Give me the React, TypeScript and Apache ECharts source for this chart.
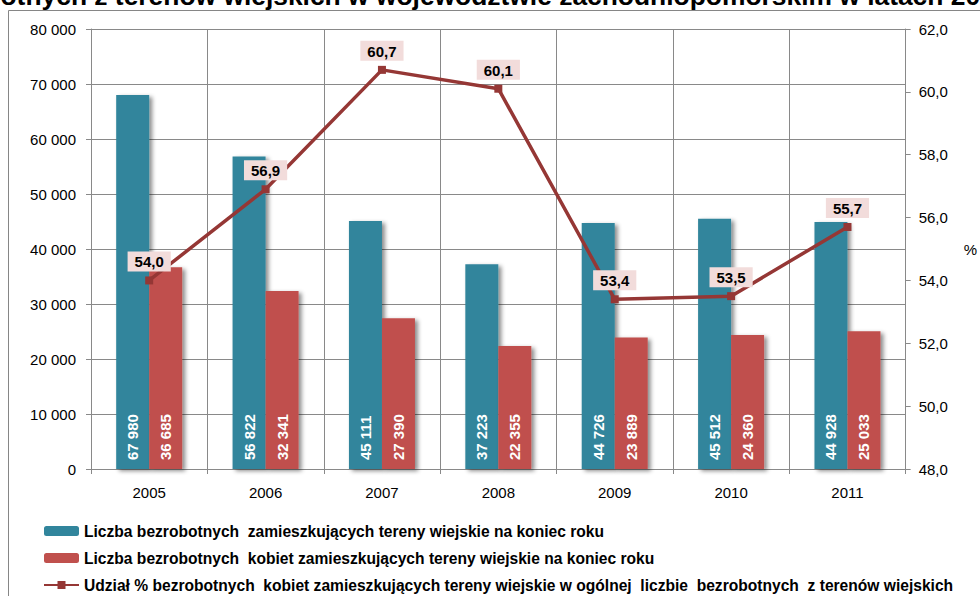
import React, { useEffect, useRef } from "react";
import * as echarts from "echarts";

const years = ["2005", "2006", "2007", "2008", "2009", "2010", "2011"];
const unemployedRural = [67980, 56822, 45111, 37223, 44726, 45512, 44928];
const unemployedWomenRural = [36685, 32341, 27390, 22355, 23889, 24360, 25033];
const womenSharePct = [54.0, 56.9, 60.7, 60.1, 53.4, 53.5, 55.7];

const seriesNames = [
  "Liczba bezrobotnych  zamieszkujących tereny wiejskie na koniec roku",
  "Liczba bezrobotnych  kobiet zamieszkujących tereny wiejskie na koniec roku",
  "Udział % bezrobotnych  kobiet zamieszkujących tereny wiejskie w ogólnej  liczbie  bezrobotnych  z terenów wiejskich",
];
const titleText =
  "bezrobotnych z terenów wiejskich w województwie zachodniopomorskim w latach 2005-2011";

const fmtThousands = (v: number) =>
  String(Math.round(v)).replace(/\B(?=(\d{3})+(?!\d))/g, " ");
const fmtPct = (v: number) => v.toFixed(1).replace(".", ",");

export default function App() {
  const ref = useRef<HTMLDivElement>(null);
  useEffect(() => {
    document.body.style.margin = "0";
    if (!ref.current) return;
    const chart = echarts.init(ref.current, null, { renderer: "svg" });
    const font = "Liberation Sans, Arial, sans-serif";
    const gridColor = "#898989";
    const barShadow = {
      shadowColor: "rgba(0,0,0,0.45)",
      shadowBlur: 4,
      shadowOffsetX: 3,
      shadowOffsetY: 2,
    };
    const barLabel = {
      show: true,
      position: "insideBottom",
      rotate: 90,
      align: "left",
      verticalAlign: "middle",
      distance: 9,
      color: "#fff",
      fontSize: 15,
      fontWeight: "bold",
      fontFamily: font,
      formatter: (p: any) => fmtThousands(p.value),
    };
    chart.setOption({
      animation: false,
      backgroundColor: "#fff",
      textStyle: { fontFamily: font },
      graphic: [
        {
          type: "polyline",
          shape: { points: [[8.5, 596], [8.5, 10.5], [980, 10.5]] },
          style: { stroke: "#868686", lineWidth: 1, fill: "none" },
          silent: true,
        },
        {
          type: "text",
          x: -86,
          y: 9,
          style: {
            text: titleText,
            font: `bold 26.4px ${font}`,
            fill: "#000",
            verticalAlign: "bottom",
            align: "left",
          },
          silent: true,
        },
      ],
      grid: { left: 91, right: 71, top: 29, bottom: 127 },
      legend: {
        orient: "vertical",
        left: 38,
        top: 518,
        height: 90,
        itemWidth: 35,
        itemHeight: 10,
        itemGap: 11,
        data: seriesNames,
        textStyle: { fontSize: 15.6, fontWeight: "bold", color: "#000", fontFamily: font },
      },
      xAxis: {
        type: "category",
        data: years,
        axisLine: { lineStyle: { color: gridColor } },
        axisTick: { show: true, alignWithLabel: false, length: 5, lineStyle: { color: gridColor } },
        axisLabel: { color: "#000", fontSize: 15, margin: 16 },
        splitLine: { show: true, lineStyle: { color: gridColor, width: 1 } },
      },
      yAxis: [
        {
          type: "value",
          min: 0,
          max: 80000,
          interval: 10000,
          axisLine: { show: true, lineStyle: { color: gridColor } },
          axisTick: { show: true, length: 5, lineStyle: { color: gridColor } },
          axisLabel: { color: "#000", fontSize: 15, margin: 15, formatter: (v: number) => fmtThousands(v) },
          splitLine: { show: true, lineStyle: { color: gridColor, width: 1 } },
        },
        {
          type: "value",
          min: 48,
          max: 62,
          interval: 2,
          name: "%",
          nameLocation: "middle",
          nameRotate: 0,
          nameGap: 58,
          nameTextStyle: { color: "#000", fontSize: 15 },
          axisLine: { show: true, lineStyle: { color: gridColor } },
          axisTick: { show: true, length: 5, lineStyle: { color: gridColor } },
          axisLabel: { color: "#000", fontSize: 15, margin: 13, formatter: (v: number) => fmtPct(v) },
          splitLine: { show: false },
        },
      ],
      series: [
        {
          name: seriesNames[0],
          type: "bar",
          data: unemployedRural,
          barWidth: 33,
          barGap: "0%",
          itemStyle: { color: "#31859c", ...barShadow },
          label: barLabel,
        },
        {
          name: seriesNames[1],
          type: "bar",
          data: unemployedWomenRural,
          barWidth: 33,
          barGap: "0%",
          itemStyle: { color: "#c0504d", ...barShadow },
          label: barLabel,
        },
        {
          name: seriesNames[2],
          type: "line",
          yAxisIndex: 1,
          data: womenSharePct,
          symbol: "rect",
          symbolSize: 8,
          lineStyle: { color: "#953735", width: 3.5 },
          itemStyle: { color: "#953735" },
          label: {
            show: true,
            position: "top",
            distance: 5,
            backgroundColor: "#f2dcdb",
            padding: [3, 7, 2, 7],
            color: "#000",
            fontWeight: "bold",
            fontSize: 15,
            fontFamily: font,
            formatter: (p: any) => fmtPct(p.value),
          },
          z: 5,
        },
      ],
    });
    return () => chart.dispose();
  }, []);
  return <div ref={ref} style={{ width: 980, height: 596 }} />;
}
